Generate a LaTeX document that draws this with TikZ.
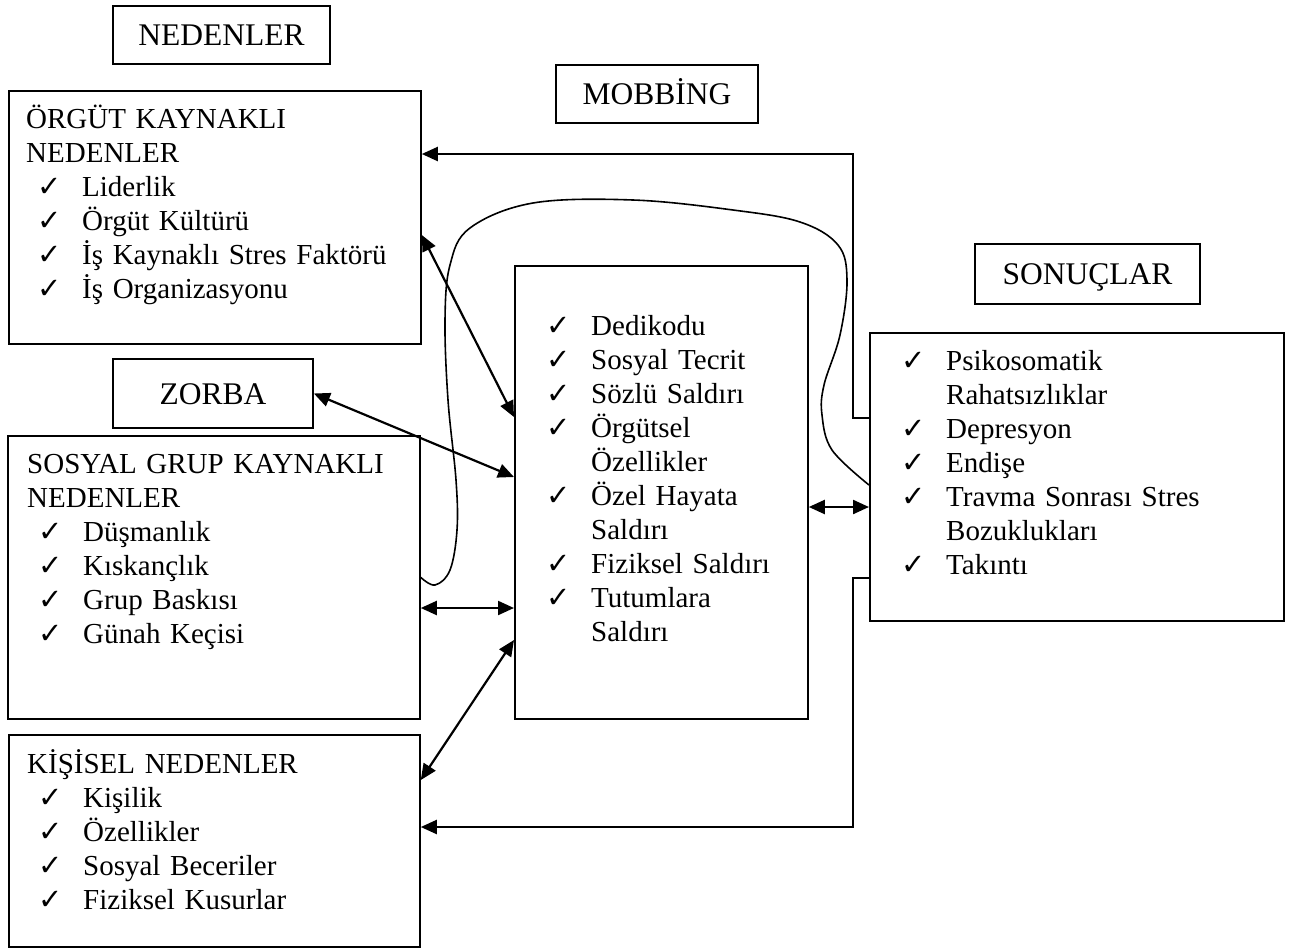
\documentclass[tikz,border=0pt]{standalone}
\usepackage{fontspec}
\setmainfont{Liberation Serif}
\newfontfamily\chkfont{DejaVu Sans}
\usetikzlibrary{arrows.meta}

\newcommand{\bodyfont}{\fontsize{29}{34}\selectfont}
\newcommand{\titlefont}{\fontsize{31.5}{36}\selectfont}
\newcommand{\chk}[1]{\makebox[45pt][l]{\chkfont\fontsize{29}{29}\selectfont ✓}#1}
\newcommand{\litem}[1]{\hspace*{11pt}\chk{#1}}
\newcommand{\cont}[1]{\hspace*{45pt}#1}

\tikzset{
  box/.style={draw, line width=1.8pt, inner sep=0pt, anchor=north west},
  title/.style={draw, line width=1.8pt, font=\titlefont, text height=21pt, text depth=0pt},
  lst/.style={anchor=base west, align=left, inner sep=0pt, text width=380pt, font=\bodyfont},
  link/.style={line width=2.2pt},
  loop/.style={line width=1.6pt},
}

\begin{document}
\begin{tikzpicture}[x=1pt, y=-1pt, >={Triangle[length=16pt, width=14pt]}]
    \useasboundingbox (0,0) rectangle (1292,948);

    % titles
    \node[title, minimum width=217pt, minimum height=58pt] (nedenler) at (221.5,35) {NEDENLER};
    \node[title, minimum width=202pt, minimum height=58pt] (mobbing) at (657,94) {MOBBİNG};
    \node[title, minimum width=200pt, minimum height=69pt] (zorba) at (213,393.5) {ZORBA};
    \node[title, minimum width=225pt, minimum height=60pt] (sonuclar) at (1087.5,274) {SONUÇLAR};

    % boxes
    \node[box, minimum width=412pt, minimum height=253pt] (orgut) at (8,90) {};
    \node[box, minimum width=412pt, minimum height=283pt] (sosyal) at (7,435) {};
    \node[box, minimum width=411pt, minimum height=212pt] (kisisel) at (8,734) {};
    \node[box, minimum width=293pt, minimum height=453pt] (mobb) at (514,265) {};
    \node[box, minimum width=414pt, minimum height=288pt] (sonuc) at (869,332) {};

    % lists
    \node[lst] (orgut-l) at (26,128) {ÖRGÜT KAYNAKLI\\NEDENLER\\
        \litem{Liderlik}\\\litem{Örgüt Kültürü}\\
        \litem{İş Kaynaklı Stres Faktörü}\\\litem{İş Organizasyonu}};
    \node[lst] (sosyal-l) at (27,473) {SOSYAL GRUP KAYNAKLI\\NEDENLER\\
        \litem{Düşmanlık}\\\litem{Kıskançlık}\\
        \litem{Grup Baskısı}\\\litem{Günah Keçisi}};
    \node[lst] (kisisel-l) at (27,773) {KİŞİSEL NEDENLER\\
        \litem{Kişilik}\\\litem{Özellikler}\\
        \litem{Sosyal Beceriler}\\\litem{Fiziksel Kusurlar}};
    \node[lst, text width=250pt] (mobb-l) at (546,335) {\chk{Dedikodu}\\\chk{Sosyal Tecrit}\\
        \chk{Sözlü Saldırı}\\\chk{Örgütsel}\\\cont{Özellikler}\\
        \chk{Özel Hayata}\\\cont{Saldırı}\\\chk{Fiziksel Saldırı}\\
        \chk{Tutumlara}\\\cont{Saldırı}};
    \node[lst, text width=360pt] (sonuc-l) at (901,370) {\chk{Psikosomatik}\\\cont{Rahatsızlıklar}\\
        \chk{Depresyon}\\\chk{Endişe}\\\chk{Travma Sonrası Stres}\\
        \cont{Bozuklukları}\\\chk{Takıntı}};

    % arrows
    \draw[link, <->] ([yshift=-145pt]orgut.north east) -- ([yshift=-152pt]mobb.north west);
    \draw[link, <->] (zorba.east) -- ([yshift=-212pt]mobb.north west);
    \draw[link, <->] ([yshift=-173pt]sosyal.north east) -- ([yshift=-343pt]mobb.north west);
    \draw[link, <->] ([yshift=-46pt]kisisel.north east) -- ([yshift=-375pt]mobb.north west);
    \draw[link, <->] ([yshift=-242pt]mobb.north east) -- ([yshift=-175pt]sonuc.north west);

    %% back to the causes
    \draw[link, ->] ([yshift=-86pt]sonuc.north west) -- ++(-16,0) |- ([yshift=-64pt]orgut.north east);
    \draw[link, ->] ([yshift=-246pt]sonuc.north west) -- ++(-16,0) |- ([yshift=-93pt]kisisel.north east);

    % loop round the middle box
    \coordinate (loopend) at ([yshift=-153pt]sonuc.north west);
    \draw[loop] plot[smooth, tension=0.6] coordinates {(sosyal.east) (435,585) (450,570) (457,530)
        (456,480) (448,400) (445,320) (450,265) (470,228) (533,203) (633,200) (733,210) (800,222)
        (838,245) (847,280) (840,335) (824,385) (822,415) (832,450) (loopend)};

\end{tikzpicture}
\end{document}
